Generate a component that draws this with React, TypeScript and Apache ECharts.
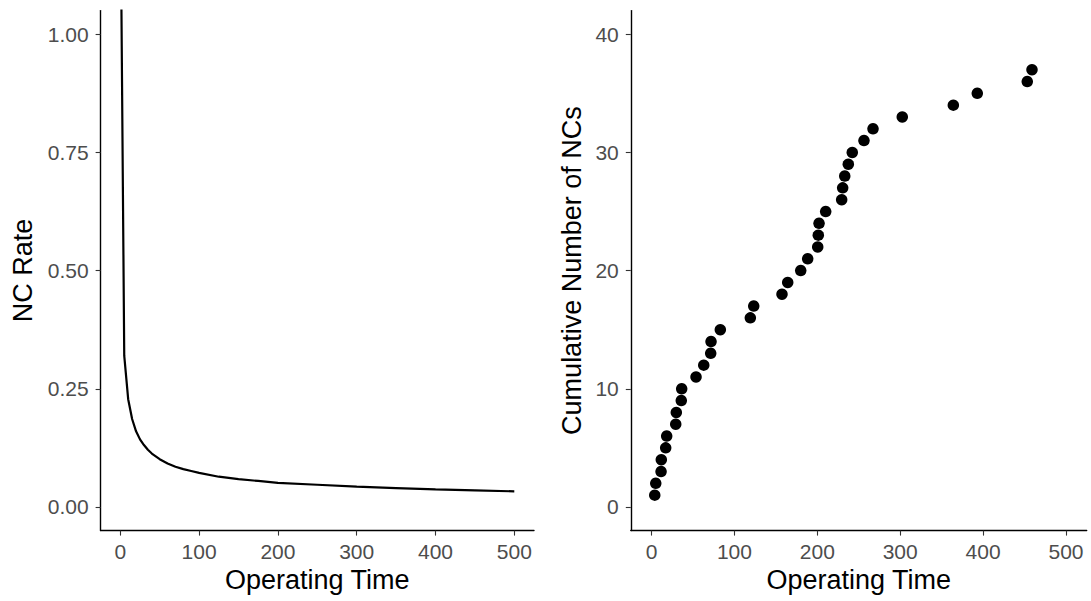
import React, { useEffect, useRef } from "react";
import * as echarts from "echarts";

// Left panel: NC rate curve
const rateTime = [0.5, 5, 10, 15, 20, 25, 30, 35, 40, 50, 60, 70, 80, 90, 100, 125, 150, 175, 200, 250, 300, 350, 400, 450, 500];
const rateValue = [1.25, 0.32, 0.228, 0.186, 0.16, 0.143, 0.131, 0.121, 0.113, 0.101, 0.092, 0.085, 0.08, 0.076, 0.072, 0.064, 0.059, 0.055, 0.051, 0.047, 0.043, 0.04, 0.037, 0.035, 0.033];

// Right panel: cumulative number of NCs
const ncTime = [3.9, 5.1, 11.5, 11.8, 17.1, 18.3, 29.2, 29.9, 35.9, 36.4, 53.7, 63.0, 71.4, 71.8, 83.0, 119.2, 123.3, 157.4, 164.3, 180.0, 188.4, 200.5, 201.2, 202.1, 210.1, 229.4, 230.6, 233.1, 237.4, 242.2, 256.3, 267.2, 302.5, 364.1, 393.0, 453.3, 459.0];
const ncCount = [1, 2, 3, 4, 5, 6, 7, 8, 9, 10, 11, 12, 13, 14, 15, 16, 17, 18, 19, 20, 21, 22, 23, 24, 25, 26, 27, 28, 29, 30, 31, 32, 33, 34, 35, 36, 37];

const xTicks = [0, 100, 200, 300, 400, 500];
const rateTicks = [0, 0.25, 0.5, 0.75, 1];
const countTicks = [0, 10, 20, 30, 40];

const FONT = "Liberation Sans";

const axisCommon = {
  axisLine: { show: true, onZero: false, lineStyle: { color: "#000", width: 1.4 } },
  axisTick: { show: true, length: 5, lineStyle: { color: "#333", width: 1.1 } },
  splitLine: { show: false },
};

export default function App() {
  const ref = useRef<HTMLDivElement>(null);
  useEffect(() => {
    if (!ref.current) return;
    const chart = echarts.init(ref.current, null, { renderer: "svg" });
    const labelStyle = { color: "#4d4d4d", fontSize: 21, fontFamily: FONT };
    const nameStyle = { color: "#000", fontSize: 27, fontFamily: FONT };
    chart.setOption({
      animation: false,
      backgroundColor: "#fff",
      grid: [
        { left: 100.6, top: 10.6, width: 433.4, height: 520 },
        { left: 630.8, top: 10.6, width: 455.9, height: 520 },
      ],
      xAxis: [0, 1].map((i) => ({
        type: "value",
        gridIndex: i,
        min: -25,
        max: 525,
        name: "Operating Time",
        nameLocation: "middle",
        nameGap: 34,
        nameTextStyle: nameStyle,
        ...axisCommon,
        axisTick: { ...axisCommon.axisTick, customValues: xTicks },
        axisLabel: { ...labelStyle, margin: 10, customValues: xTicks },
      })),
      yAxis: [
        {
          type: "value",
          gridIndex: 0,
          min: -0.05,
          max: 1.05,
          name: "NC Rate",
          nameLocation: "middle",
          nameGap: 64,
          nameTextStyle: nameStyle,
          ...axisCommon,
          axisTick: { ...axisCommon.axisTick, customValues: rateTicks },
          axisLabel: { ...labelStyle, margin: 12, customValues: rateTicks, formatter: (v: number) => v.toFixed(2) },
        },
        {
          type: "value",
          gridIndex: 1,
          min: -2,
          max: 42,
          name: "Cumulative Number of NCs",
          nameLocation: "middle",
          nameGap: 45,
          nameTextStyle: nameStyle,
          ...axisCommon,
          axisTick: { ...axisCommon.axisTick, customValues: countTicks },
          axisLabel: { ...labelStyle, margin: 12, customValues: countTicks },
        },
      ],
      series: [
        {
          type: "line",
          xAxisIndex: 0,
          yAxisIndex: 0,
          data: rateTime.map((t, i) => [t, rateValue[i]]),
          showSymbol: false,
          symbol: "none",
          clip: true,
          lineStyle: { color: "#000", width: 2.2 },
        },
        {
          type: "scatter",
          xAxisIndex: 1,
          yAxisIndex: 1,
          data: ncTime.map((t, i) => [t, ncCount[i]]),
          symbolSize: 11.5,
          itemStyle: { color: "#000", opacity: 1 },
        },
      ],
    });
    return () => chart.dispose();
  }, []);
  return (
    <div
      ref={ref}
      style={{ position: "absolute", left: 0, top: 0, width: 1091, height: 601, background: "#fff" }}
    />
  );
}
